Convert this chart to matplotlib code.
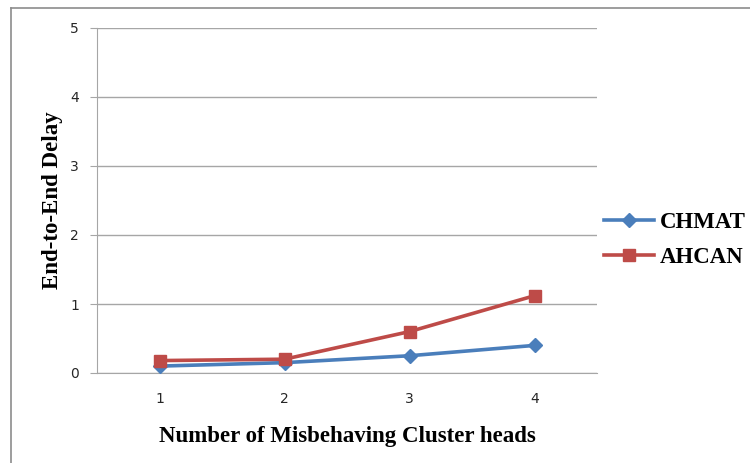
import matplotlib

matplotlib.use("Agg")
import matplotlib.pyplot as plt
from matplotlib.lines import Line2D

# Delay per number of misbehaving cluster heads
cluster_heads = [1, 2, 3, 4]
chmat_delay = [0.10, 0.15, 0.25, 0.40]
ahcan_delay = [0.18, 0.20, 0.60, 1.12]

BLUE = "#4A7EBB"
RED = "#BE4B48"
GRID = "#A6A6A6"
SERIF = ["Liberation Serif", "DejaVu Serif"]

W, H = 750, 463
fig = plt.figure(figsize=(W / 100, H / 100), dpi=100)
ax = fig.add_axes([97 / W, 1 - 373 / H, 500 / W, 345 / H])

ax.plot(cluster_heads, chmat_delay, color=BLUE, lw=2.6, marker="D", ms=7,
        markeredgecolor=BLUE, label="CHMAT", zorder=3)
ax.plot(cluster_heads, ahcan_delay, color=RED, lw=2.6, marker="s", ms=9,
        markeredgecolor=RED, label="AHCAN", zorder=3)

ax.set_xlim(0.5, 4.5)
ax.set_ylim(0, 5)
ax.set_xticks(cluster_heads)
ax.set_yticks(range(0, 6))
ax.yaxis.grid(True, color=GRID, lw=1)
ax.set_axisbelow(True)
for side in ("top", "right"):
    ax.spines[side].set_visible(False)
ax.spines["left"].set_color(GRID)
ax.spines["bottom"].set_color(GRID)
ax.tick_params(axis="x", length=0, pad=14, labelsize=10, labelcolor="#262626")
ax.tick_params(axis="y", length=5, color=GRID, pad=8, labelsize=10, labelcolor="#262626")

ax.set_xlabel("Number of Misbehaving Cluster heads", family=SERIF,
              fontweight="bold", fontsize=16.5, labelpad=14)
ax.set_ylabel("End-to-End Delay", family=SERIF, fontweight="bold",
              fontsize=16.5, labelpad=5)

handles = [
    Line2D([], [], color=BLUE, lw=2.6, marker="D", ms=7),
    Line2D([], [], color=RED, lw=2.6, marker="s", ms=9),
]
fig.legend(handles, ["CHMAT", "AHCAN"], loc="center left",
           bbox_to_anchor=(604 / W, 1 - 240 / H), frameon=False, borderpad=0,
           borderaxespad=0,
           prop={"family": SERIF, "weight": "bold", "size": 16.5},
           handlelength=2.2, handletextpad=0.25, labelspacing=0.6)

# chart frame (left and top edges)
fig.add_artist(Line2D([11 / W, 11 / W], [0, 1 - 8 / H], transform=fig.transFigure,
                      color="#8C8C8C", lw=1.2))
fig.add_artist(Line2D([11 / W, 1], [1 - 8 / H, 1 - 8 / H], transform=fig.transFigure,
                      color="#8C8C8C", lw=1.2))

fig.savefig("out.png", dpi=100)
